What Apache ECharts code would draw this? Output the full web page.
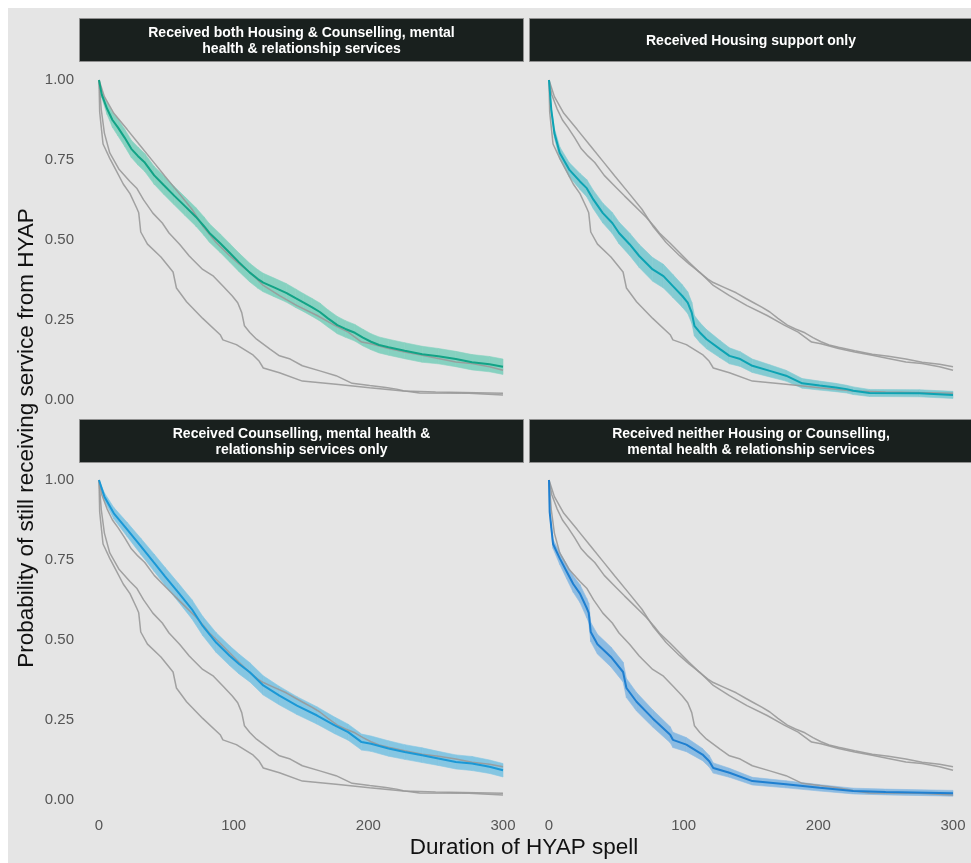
<!DOCTYPE html>
<html>
<head>
<meta charset="utf-8">
<script src="https://cdn.jsdelivr.net/npm/echarts@6/dist/echarts.min.js"></script>
<style>
html,body{margin:0;padding:0;background:#ffffff;}
#chart{width:971px;height:863px;}
</style>
</head>
<body>
<div id="chart"></div>
<script>
// ---- Data ----
const panelTitles = [
  "Received both Housing & Counselling, mental\nhealth & relationship services",
  "Received Housing support only",
  "Received Counselling, mental health &\nrelationship services only",
  "Received neither Housing or Counselling,\nmental health & relationship services"
];
const xTicks = [0, 100, 200, 300];
const yTicks = [0, 0.25, 0.5, 0.75, 1];
const xTitle = "Duration of HYAP spell";
const yTitle = "Probability of still receiving service from HYAP";

// A: both housing & counselling  (time, survival estimate, CI half-width)
const tA = [0,2,6,10,14,19,24,29,34,41,48,56,64,72,78,82,90,97,104,112,118,122,130,139,146,152,158,164,170,177,183,190,196,202,208,215,227,240,252,265,277,290,300];
const sA = [1.0,.955,.910,.875,.852,.820,.785,.762,.742,.702,.672,.638,.605,.572,.543,.522,.490,.460,.430,.398,.378,.367,.352,.335,.318,.304,.290,.275,.255,.234,.222,.210,.195,.182,.172,.165,.154,.143,.137,.128,.118,.112,.104];
const ciA = [0,.010,.018,.023,.026,.027,.027,.028,.028,.028,.029,.029,.029,.029,.029,.029,.029,.029,.029,.029,.029,.029,.029,.029,.029,.028,.028,.028,.027,.027,.026,.026,.026,.025,.025,.025,.025,.025,.024,.024,.024,.024,.024];

// B: housing only
const tB = [0,1.7,4,8,15,23,28,33,40,47,52,60,67,77,85,92,99,103,106,108,112,117,127,134,142,151,164,176,188,201,213,221,226,238,275,300];
const sB = [1.0,.907,.834,.772,.720,.683,.662,.626,.584,.553,.522,.486,.450,.408,.387,.356,.325,.304,.273,.232,.211,.190,.159,.138,.128,.107,.091,.076,.052,.045,.039,.034,.029,.022,.021,.016];
const ciB = [0,.010,.015,.019,.022,.025,.027,.029,.031,.033,.034,.035,.036,.037,.037,.036,.035,.034,.033,.032,.031,.030,.027,.025,.023,.021,.019,.017,.015,.014,.013,.012,.012,.011,.011,.011];

// C: counselling only
const tC = [0,4,11,21,31,41,49,59,69,77,87,97,104,112,122,134,147,162,175,185,195,202,215,227,240,252,265,277,290,300];
const sC = [1.0,.948,.896,.845,.793,.741,.699,.648,.596,.544,.492,.451,.425,.399,.358,.326,.295,.264,.233,.212,.181,.176,.161,.150,.140,.130,.119,.114,.104,.093];
const ciC = [0,.012,.018,.022,.025,.027,.028,.029,.030,.030,.031,.031,.031,.030,.030,.029,.028,.027,.026,.025,.025,.024,.024,.023,.023,.022,.022,.022,.021,.021];

// D: neither
const tD = [0,0.5,1.5,3,8,13,18,23,28,29.5,31,36,46,55,57.5,65,77,90,92,102,114,119,122,134,151,176,201,226,250,300];
const sD = [1.0,.90,.86,.80,.755,.715,.675,.645,.600,.585,.525,.487,.447,.400,.350,.307,.255,.204,.188,.173,.142,.121,.100,.085,.059,.049,.038,.028,.025,.021];
const ciD = [0,.006,.010,.014,.019,.023,.026,.028,.030,.030,.030,.031,.031,.031,.030,.029,.027,.025,.024,.022,.019,.018,.016,.014,.012,.011,.010,.009,.009,.009];

// ---- Build ----
const curves = [
  {t:tA, s:sA, ci:ciA, line:'#12a386', band:'#86d1c0'},
  {t:tB, s:sB, ci:ciB, line:'#0da3b3', band:'#84cbd2'},
  {t:tC, s:sC, ci:ciC, line:'#1b98d6', band:'#85c6e2'},
  {t:tD, s:sD, ci:ciD, line:'#1f7fd0', band:'#8bbbe2'}
];
const pts = (t, v) => t.map((x, i) => [x, v[i]]);
// ribbon segments: [t_i, lo_i, hi_i, t_i+1, lo_i+1, hi_i+1]
const segs = c => c.t.slice(0, -1).map((x, i) => [
  x, c.s[i] - c.ci[i], c.s[i] + c.ci[i],
  c.t[i+1], c.s[i+1] - c.ci[i+1], c.s[i+1] + c.ci[i+1]
]);

const grids = [
  {left:99, top:80, width:404, height:320},
  {left:549, top:80, width:404, height:320},
  {left:99, top:480, width:404, height:320},
  {left:549, top:480, width:404, height:320}
];
const FONT = '"Liberation Sans", Arial, sans-serif';

const xAxes = grids.map((g, i) => ({
  type:'value', gridIndex:i, min:xTicks[0], max:xTicks[xTicks.length-1], interval:100,
  axisLine:{show:false}, axisTick:{show:false}, splitLine:{show:false},
  axisLabel:{show: i >= 2, color:'#555555', fontSize:15, fontFamily:FONT, margin:18}
}));
const yAxes = grids.map((g, i) => ({
  type:'value', gridIndex:i, min:yTicks[0], max:yTicks[yTicks.length-1], interval:0.25,
  axisLine:{show:false}, axisTick:{show:false}, splitLine:{show:false},
  axisLabel:{show: i % 2 === 0, color:'#555555', fontSize:15, fontFamily:FONT, margin:25,
    formatter: v => v.toFixed(2)}
}));

const series = [];
curves.forEach((c, p) => {
  // ribbon (confidence band) as polygons through the axes' coordinate system
  series.push({
    type:'custom', xAxisIndex:p, yAxisIndex:p, silent:true, z:1,
    data:segs(c),
    encode:{x:[0,3], y:[1,2,4,5]},
    renderItem:(params, api) => {
      const a = api.coord([api.value(0), api.value(1)]);
      const b = api.coord([api.value(3), api.value(4)]);
      const d = api.coord([api.value(3), api.value(5)]);
      const e = api.coord([api.value(0), api.value(2)]);
      return {type:'polygon', shape:{points:[a, b, d, e]},
        style:{fill:c.band, stroke:c.band, lineWidth:0.6}};
    }
  });
  // the other curves in grey
  curves.forEach((o, q) => {
    if (q === p) return;
    series.push({type:'line', xAxisIndex:p, yAxisIndex:p, data:pts(o.t, o.s), symbol:'none',
      lineStyle:{color:'#999999', width:1.5, opacity:0.9}, silent:true, z:2});
  });
  // highlighted curve
  series.push({type:'line', xAxisIndex:p, yAxisIndex:p, data:pts(c.t, c.s), symbol:'none',
    lineStyle:{color:c.line, width:2}, silent:true, z:3});
});

const strips = [
  {x:79, y:18, w:445, h:44},
  {x:529, y:18, w:444, h:44},
  {x:79, y:419, w:445, h:44},
  {x:529, y:419, w:444, h:44}
];
const graphics = [
  {type:'rect', shape:{x:8, y:8, width:963, height:855}, style:{fill:'#e5e5e5'}, z:-10, silent:true}
];
strips.forEach((s, i) => {
  graphics.push({type:'rect', shape:{x:s.x+0.5, y:s.y+0.5, width:s.w-1, height:s.h-1},
    style:{fill:'#19201e', stroke:'#8f8f8f', lineWidth:1}, z:5, silent:true});
  graphics.push({type:'text', x:s.x + s.w/2, y:s.y + s.h/2 + 1, z:6, silent:true,
    style:{text:panelTitles[i], fill:'#ffffff', font:'bold 14px ' + FONT,
      textAlign:'center', textVerticalAlign:'middle', lineHeight:15.5}});
});
graphics.push({type:'text', x:524, y:848, z:6, silent:true,
  style:{text:xTitle, fill:'#111111', font:'22.5px ' + FONT, textAlign:'center', textVerticalAlign:'middle'}});
graphics.push({type:'text', x:27, y:438, rotation:Math.PI/2, z:6, silent:true,
  style:{text:yTitle, fill:'#111111', font:'22.5px ' + FONT, textAlign:'center', textVerticalAlign:'middle'}});

const chart = echarts.init(document.getElementById('chart'), null, {renderer:'canvas'});
chart.setOption({
  backgroundColor:'#ffffff',
  animation:false,
  grid:grids,
  xAxis:xAxes,
  yAxis:yAxes,
  series:series,
  graphic:graphics
});
</script>
</body>
</html>
